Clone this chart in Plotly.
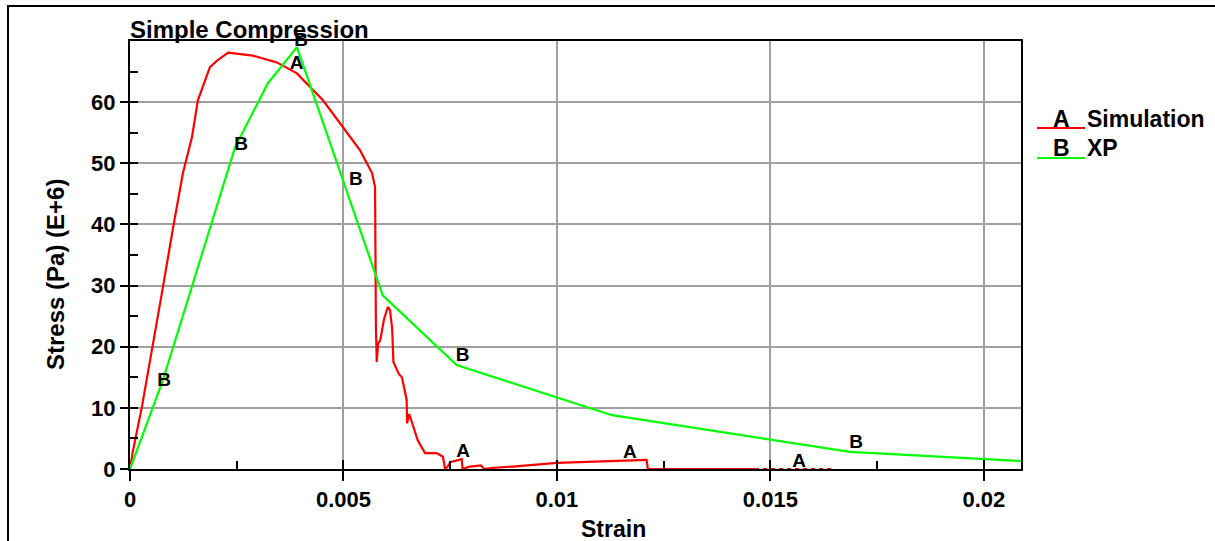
import plotly.graph_objects as go

# ---------------- data ----------------
sim_strain = [0, 0.00007, 0.00028, 0.00052, 0.00077, 0.00101, 0.00124, 0.00145, 0.00159,
              0.00187, 0.00204, 0.0023, 0.00288, 0.00344, 0.00391, 0.00452, 0.0050, 0.00539,
              0.00567, 0.00574, 0.00576, 0.00578, 0.00581, 0.00586, 0.00595, 0.00604, 0.00609,
              0.00614, 0.00617, 0.0063, 0.00637, 0.00648, 0.00649, 0.00654, 0.00674, 0.00691,
              0.00718, 0.00733, 0.00738, 0.00745, 0.0075, 0.0077, 0.00777, 0.00779, 0.00796,
              0.00822, 0.0083, 0.0085, 0.00897, 0.0100, 0.01131, 0.0121, 0.01213, 0.01464]
sim_stress = [0, 3.0, 10.2, 19.5, 29.7, 39.5, 48.4, 54.2, 60.3,
              65.7, 66.8, 68.1, 67.6, 66.5, 64.7, 60.3, 55.8, 52.1,
              48.4, 46.1, 23.2, 17.5, 20.5, 21.0, 24.5, 26.5, 26.0,
              23.0, 17.5, 15.5, 15.0, 11.3, 7.5, 9.0, 4.7, 2.6,
              2.6, 2.0, 0.0, 0.5, 1.1, 1.5, 1.6, 0.0, 0.4,
              0.6, 0.0, 0.2, 0.4, 1.0, 1.3, 1.5, 0.0, 0.0]
sim_tail_strain = [0.01464, 0.01646]
sim_tail_stress = [0.0, 0.0]

xp_strain = [0, 0.00077, 0.00246, 0.00323, 0.00391, 0.00592, 0.00765, 0.01129, 0.01686, 0.0209]
xp_stress = [0, 14.5, 52.6, 63.1, 69.0, 28.4, 17.0, 8.8, 2.8, 1.3]

sim_label_strain = [0.0039, 0.0078, 0.01171, 0.01567]
sim_label_stress = [66.2, 2.7, 2.6, 1.06]
xp_label_strain = [0.0008, 0.0026, 0.00401, 0.00529, 0.00779, 0.01701]
xp_label_stress = [14.4, 53.0, 70.0, 47.2, 18.5, 4.25]

x_tickvals = [0, 0.005, 0.01, 0.015, 0.02]
x_ticktext = ["0", "0.005", "0.01", "0.015", "0.02"]
y_tickvals = [0, 10, 20, 30, 40, 50, 60]

RED = "#ff0000"
GREEN = "#00ff00"
FONT = "Liberation Sans"

fig = go.Figure()
fig.add_trace(go.Scatter(x=sim_strain, y=sim_stress, mode="lines",
                         line=dict(color=RED, width=2.2), showlegend=False, cliponaxis=False))
fig.add_trace(go.Scatter(x=sim_tail_strain, y=sim_tail_stress, mode="lines",
                         line=dict(color=RED, width=2.2, dash="4px,4px"), showlegend=False))
fig.add_trace(go.Scatter(x=xp_strain, y=xp_stress, mode="lines",
                         line=dict(color=GREEN, width=2.2), showlegend=False))
fig.add_trace(go.Scatter(x=sim_label_strain, y=sim_label_stress, mode="text",
                         text=["A"] * len(sim_label_strain), textposition="middle center",
                         textfont=dict(family=FONT, size=19, color="black", weight="bold"),
                         showlegend=False, cliponaxis=False))
fig.add_trace(go.Scatter(x=xp_label_strain, y=xp_label_stress, mode="text",
                         text=["B"] * len(xp_label_strain), textposition="middle center",
                         textfont=dict(family=FONT, size=19, color="black", weight="bold"),
                         showlegend=False, cliponaxis=False))
# invisible trace to carry the inner-tick axes
fig.add_trace(go.Scatter(x=[0], y=[0], xaxis="x2", yaxis="y2", mode="markers",
                         marker=dict(opacity=0), showlegend=False, hoverinfo="skip"))

XR = [0, 0.02087]
YR = [0, 70.0]
tickfont = dict(family=FONT, size=22, color="black", weight="bold")

fig.update_layout(
    width=1215, height=541,
    margin=dict(l=130, r=194, t=41, b=72),
    paper_bgcolor="white", plot_bgcolor="white",
    showlegend=False,
    xaxis=dict(range=XR, tickvals=x_tickvals, ticktext=x_ticktext, tickfont=tickfont,
               ticks="outside", ticklen=10, tickwidth=1.5, tickcolor="black",
               showgrid=True, gridcolor="#a0a0a0", gridwidth=1.5,
               showline=True, linecolor="black", linewidth=2, mirror=True,
               zeroline=False),
    yaxis=dict(range=YR, tickvals=y_tickvals, tickfont=tickfont,
               ticks="outside", ticklen=8, tickwidth=1.5, tickcolor="black",
               showgrid=True, gridcolor="#a0a0a0", gridwidth=1.5,
               showline=True, linecolor="black", linewidth=2, mirror=True,
               zeroline=False),
    xaxis2=dict(range=XR, overlaying="x", side="bottom", anchor="y",
                tickvals=x_tickvals, showticklabels=False, ticks="inside", ticklen=9,
                tickwidth=1.5, tickcolor="black", showgrid=False, zeroline=False,
                showline=False,
                minor=dict(dtick=0.0025, tick0=0, ticks="inside", ticklen=8,
                           tickwidth=1.5, tickcolor="black", showgrid=False)),
    yaxis2=dict(range=YR, overlaying="y", side="left", anchor="x",
                tickvals=y_tickvals, showticklabels=False, ticks="inside", ticklen=8,
                tickwidth=1.5, tickcolor="black", showgrid=False, zeroline=False,
                showline=False,
                minor=dict(dtick=5, tick0=0, ticks="inside", ticklen=8,
                           tickwidth=1.5, tickcolor="black", showgrid=False)),
)

# Plot-area pixel geometry used to place paper-referenced decorations
PL, PR, PT, PB = 130, 1021, 41, 469
def px(xp):
    return (xp - PL) / (PR - PL)
def py(yp):
    return (PB - yp) / (PB - PT)

title_font = dict(family=FONT, size=23, color="black", weight="bold")
fig.add_annotation(text="Simple Compression", xref="paper", yref="paper",
                   x=px(128), y=py(29), xanchor="left", yanchor="middle",
                   showarrow=False, font=dict(family=FONT, size=24, color="black", weight="bold"))
fig.add_annotation(text="Strain", xref="paper", yref="paper",
                   x=px(613), y=py(529), xanchor="center", yanchor="middle",
                   showarrow=False, font=title_font)
fig.add_annotation(text="Stress (Pa) (E+6)", xref="paper", yref="paper",
                   x=px(55), y=py(275), xanchor="center", yanchor="middle", textangle=-90,
                   showarrow=False, font=dict(family=FONT, size=24, color="black", weight="bold"))

# legend (manual)
legend_rows = [("A", "Simulation", RED, 128, 119), ("B", "XP", GREEN, 158, 148)]
for letter, name, col, ly, ty in legend_rows:
    fig.add_shape(type="line", xref="paper", yref="paper",
                  x0=px(1037), x1=px(1085), y0=py(ly), y1=py(ly),
                  line=dict(color=col, width=2.2))
    fig.add_annotation(text=letter, xref="paper", yref="paper", x=px(1061), y=py(ty),
                       xanchor="center", yanchor="middle", showarrow=False, font=title_font)
    fig.add_annotation(text=name, xref="paper", yref="paper", x=px(1085), y=py(ty),
                       xanchor="left", yanchor="middle", showarrow=False, font=title_font)

# outer frame (top and left edges visible in the picture)
fig.add_shape(type="rect", xref="paper", yref="paper",
              x0=px(8), x1=px(1240), y0=py(560), y1=py(6),
              line=dict(color="black", width=2), fillcolor="rgba(0,0,0,0)", layer="above")

fig.write_html("out.html", config={"displayModeBar": False},
               post_script="document.body.style.margin='0';")
